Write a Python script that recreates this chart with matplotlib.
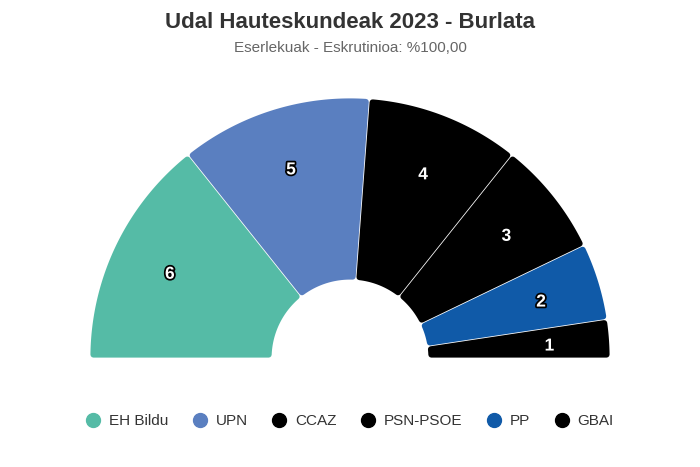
import numpy as np
import matplotlib.pyplot as plt
from matplotlib.patches import Polygon
from matplotlib.lines import Line2D
import matplotlib.patheffects as pe

plt.rcParams['font.family'] = ['Liberation Sans', 'DejaVu Sans']

parties = ['EH Bildu', 'UPN', 'CCAZ', 'PSN-PSOE', 'PP', 'GBAI']
seats = [6, 5, 4, 3, 2, 1]
colors = ['#55bba6', '#5a7fc0', '#000000', '#000000', '#105aa8', '#000000']

title = 'Udal Hauteskundeak 2023 - Burlata'
subtitle = 'Eserlekuak - Eskrutinioa: %100,00'

fig = plt.figure(figsize=(7, 4.67), dpi=100)
ax = fig.add_axes([0, 0, 1, 1])
ax.set_xlim(0, 700)
ax.set_ylim(467, 0)
ax.axis('off')

cx, cy = 350, 358
r_out, r_in = 260, 78
corner = 3.0   # rounded corner radius in px
gap = 0.4      # half of the white border


def pt(r, a):
    return cx + r * np.cos(a), cy - r * np.sin(a)


total = sum(seats)
start = np.pi
for name, n, col in zip(parties, seats, colors):
    end = start - np.pi * n / total
    d = corner + gap
    R1, R0 = r_out - d, r_in + d
    a_hi = start - np.arcsin(d / R1)
    a_lo = end + np.arcsin(d / R1)
    b_hi = start - np.arcsin(d / R0)
    b_lo = end + np.arcsin(d / R0)
    outer = [pt(R1, a) for a in np.linspace(a_hi, a_lo, 80)]
    inner = [pt(R0, a) for a in np.linspace(b_lo, b_hi, 40)]
    poly = Polygon(outer + inner, closed=True, facecolor=col, edgecolor=col,
                   linewidth=2 * corner * 0.72, joinstyle='round')
    ax.add_patch(poly)
    mid = (start + end) / 2
    lx, ly = pt(200, mid)
    ax.text(lx, ly + 3, str(n), ha='center', va='center', color='white',
            fontsize=12.5, fontweight='bold',
            path_effects=[pe.Stroke(linewidth=2.5, foreground='black'), pe.Normal()])
    start = end

fig.text(0.5, 1 - 23 / 467, title, ha='center', va='center',
         fontsize=16, fontweight='bold', color='#333333')
fig.text(0.5, 1 - 48 / 467, subtitle, ha='center', va='center',
         fontsize=11, color='#666666')

handles = [Line2D([], [], linestyle='none', marker='o', markersize=10,
                  markerfacecolor=c, markeredgecolor=c) for c in colors]
leg = ax.legend(handles, parties, ncol=len(parties), loc='center',
                bbox_to_anchor=(0.5, 1 - 421 / 467), frameon=False,
                fontsize=11, handlelength=0.9, handletextpad=0.6,
                columnspacing=1.6)
for t in leg.get_texts():
    t.set_color('#333333')

fig.savefig('out.png', dpi=100)
